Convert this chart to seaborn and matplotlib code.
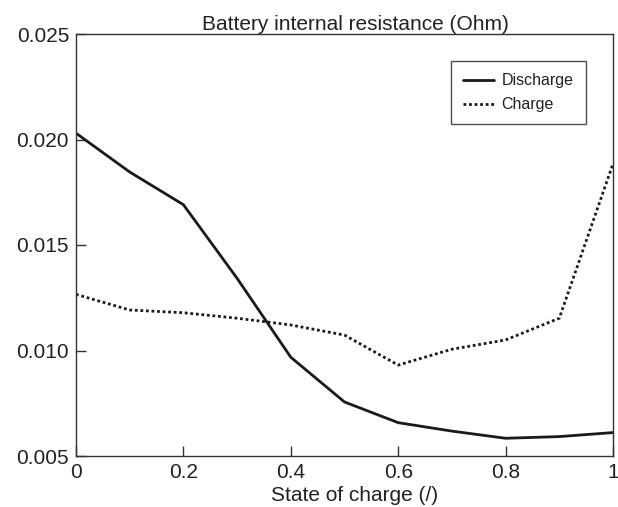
import matplotlib
matplotlib.use("Agg")
import matplotlib.pyplot as plt
import numpy as np
import pandas as pd
import seaborn as sns

# state of charge and internal resistance
soc = [0.0, 0.1, 0.2, 0.3, 0.4, 0.5, 0.6, 0.7, 0.8, 0.9, 1.0]
r_discharge = [0.0203, 0.01846, 0.01691, 0.01342, 0.00968, 0.00756,
               0.00658, 0.00618, 0.00584, 0.00592, 0.00611]
r_charge = [0.01266, 0.01192, 0.01179, 0.01153, 0.01121, 0.01073,
            0.00931, 0.01006, 0.0105, 0.01153, 0.01885]

data = pd.DataFrame({
    "soc": soc * 2,
    "resistance": r_discharge + r_charge,
    "Sample": ["Discharge"] * len(soc) + ["Charge"] * len(soc),
})

sns.set_theme(style="white")
sns.set_style("ticks")
plt.rcParams['font.family'] = ['Liberation Sans', 'DejaVu Sans']

fig = plt.figure(figsize=(6.18, 5.07), dpi=100)
ax = fig.add_axes([76 / 618, 1 - 456 / 507, 537 / 618, 422 / 507])

sns.lineplot(data=data, x="soc", y="resistance", hue="Sample", style="Sample",
             palette=["#1a1a1a", "#1a1a1a"],
             dashes={"Discharge": "", "Charge": (1, 1)},
             linewidth=2, ax=ax)

ax.set_xlim(0, 1)
ax.set_ylim(0.005, 0.025)
ax.set_xticks([0, 0.2, 0.4, 0.6, 0.8, 1])
ax.set_xticklabels(["0", "0.2", "0.4", "0.6", "0.8", "1"])
ax.set_yticks([0.005, 0.010, 0.015, 0.020, 0.025])
ax.set_yticklabels(["0.005", "0.010", "0.015", "0.020", "0.025"])
ax.tick_params(axis='both', direction='in', length=7, width=1, color='#333333',
               labelsize=15, pad=5, labelcolor='#222222')
for s in ax.spines.values():
    s.set_color('#333333')
    s.set_linewidth(1)

ax.set_xlabel("State of charge (/)", fontsize=15, labelpad=3, color='#222222')
ax.xaxis.label.set_x(0.519)
ax.set_ylabel("")
ax.set_title("Battery internal resistance (Ohm)", fontsize=15, pad=2,
             x=0.521, color='#222222')

leg = ax.legend(loc='upper right', bbox_to_anchor=(0.949, 0.935), borderaxespad=0,
                fontsize=11.5, frameon=True, fancybox=False, edgecolor='#222222',
                handlelength=2.0, handletextpad=0.45, borderpad=0.75,
                labelspacing=0.55)
leg.get_frame().set_linewidth(1)
for t in leg.get_texts():
    t.set_color('#222222')

plt.savefig("out.png", dpi=100)
